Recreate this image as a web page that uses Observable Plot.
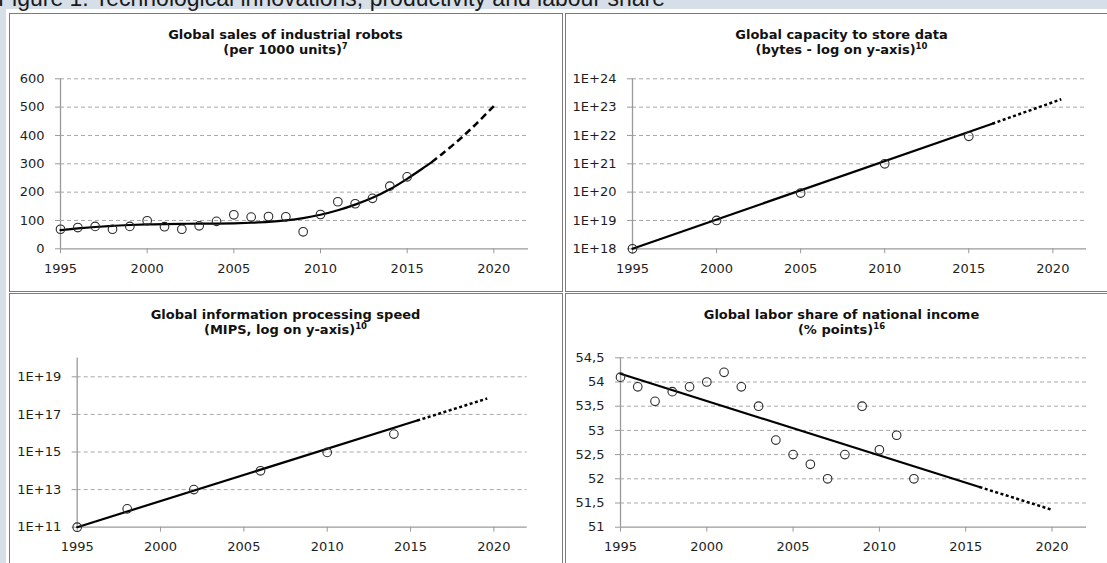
<!DOCTYPE html>
<html>
<head>
<meta charset="utf-8">
<script src="https://cdn.jsdelivr.net/npm/d3@7"></script>
<script src="https://cdn.jsdelivr.net/npm/@observablehq/plot@0.6"></script>
<style>
  html, body { margin: 0; padding: 0; width: 1107px; height: 563px; overflow: hidden; background: #d6dee7; }
  .abs { position: absolute; }
  #fig-title { left: -2px; top: -13.5px; font-family: "Liberation Sans", Arial, sans-serif; font-size: 23px; line-height: 23px; color: #1a1a1a; white-space: nowrap; }
  #sheet { left: 6px; top: 9px; width: 1200px; height: 600px; background: #fff; }
  .panel { border: 1px solid #7c7c7c; box-sizing: border-box; background: #fff; }
  .ptitle { font-family: "DejaVu Sans", Verdana, sans-serif; font-weight: bold; font-size: 13px; line-height: 15.6px; color: #111; text-align: center; white-space: nowrap; }
  .ptitle sup { font-size: 8.5px; vertical-align: 0; position: relative; top: -5px; }
</style>
</head>
<body>
<script>
// ---------- DATA ----------
// Panel 1: global sales of industrial robots (thousand units)
const robotYears = [1995,1996,1997,1998,1999,2000,2001,2002,2003,2004,2005,2006,2007,2008,2009,2010,2011,2012,2013,2014,2015];
const robotSales = [69,75,79,69,79,99,78,69,81,97,120,112,114,113,60,121,166,159,178,221,254];
const robotTrendYears = [1995,1996,1997,1998,1999,2000,2001,2002,2003,2004,2005,2006,2007,2008,2009,2010,2011,2012,2013,2014,2015,2016,2016.4];
const robotTrend = [66,72,77,81,84,86,87,88,89,89,90,92,95,100,108,120,136,156,180,210,247,288,305];
const robotForecastYears = [2016.4,2017,2018,2019,2020];
const robotForecast = [305,334,385,442,504];
const robotTicks = [0,100,200,300,400,500,600];

// Panel 2: global capacity to store data (bytes)
const storageYears = [1995,2000,2005,2010,2015];
const storageBytes = [1e18,1e19,0.93e20,1e21,0.93e22];
const storageTrendYears = [1995,2016.4];
const storageTrend = [1e18,2.6e22];
const storageForecastYears = [2016.4,2020.5];
const storageForecast = [2.6e22,1.9e23];
const storageTicks = [1e18,1e19,1e20,1e21,1e22,1e23,1e24];

// Panel 3: global information processing speed (MIPS)
const mipsYears = [1995,1998,2002,2006,2010,2014];
const mipsValues = [1e11,0.95e12,1e13,1e14,0.95e15,9e15];
const mipsTrendYears = [1995,2015.4];
const mipsTrend = [1e11,4.7e16];
const mipsForecastYears = [2015.4,2019.6];
const mipsForecast = [4.7e16,7e17];
const mipsTicks = [1e11,1e13,1e15,1e17,1e19];

// Panel 4: global labor share of national income (%)
const laborYears = [1995,1996,1997,1998,1999,2000,2001,2002,2003,2004,2005,2006,2007,2008,2009,2010,2011,2012];
const laborShare = [54.1,53.9,53.6,53.8,53.9,54.0,54.2,53.9,53.5,52.8,52.5,52.3,52.0,52.5,53.5,52.6,52.9,52.0];
const laborTrendYears = [1995,2015.8];
const laborTrend = [54.17,51.83];
const laborForecastYears = [2015.8,2020];
const laborForecast = [51.83,51.36];
const laborTicks = [51,51.5,52,52.5,53,53.5,54,54.5];

const yearTicks = [1995,2000,2005,2010,2015,2020];

// ---------- LAYOUT HELPERS ----------
function addDiv(cls, style, html, id) {
  const d = document.createElement("div");
  d.className = cls;
  if (id) d.id = id;
  Object.assign(d.style, style);
  if (html != null) d.innerHTML = html;
  document.body.appendChild(d);
  return d;
}

addDiv("abs", {}, null, "sheet");
addDiv("abs", {}, "Figure 1: Technological innovations, productivity and labour share", "fig-title");

const AXIS = "#9a9a9a", GRID = "#a8a8a8", LABEL = "#1e1e1e";

function panel({left, top, width, height, title, m, yType, yDomain, yTicks, yFmt, gridTicks,
                tx, ty, fx, fy, dash, dotsYears, dotsVals}) {
  addDiv("abs panel", {left: left + "px", top: top + "px", width: (width + 1) + "px", height: (height + 1) + "px"});
  addDiv("abs ptitle", {left: left + "px", top: (top + 13.5) + "px", width: width + "px"}, title);
  const chart = Plot.plot({
    width, height,
    marginLeft: m[0], marginRight: m[1], marginTop: m[2], marginBottom: m[3],
    style: {background: "transparent", fontFamily: "DejaVu Sans, Verdana, sans-serif", fontSize: "13px", color: LABEL, overflow: "visible"},
    x: {domain: [1995, 2022]},
    y: {type: yType, domain: yDomain},
    marks: [
      Plot.ruleY(gridTicks, {stroke: GRID, strokeWidth: 1, strokeDasharray: "4,3"}),
      Plot.ruleY([yDomain[0]], {stroke: AXIS, strokeWidth: 1.3}),
      Plot.ruleX([1995], {stroke: AXIS, strokeWidth: 1.3}),
      Plot.axisX({ticks: yearTicks, tickFormat: d => String(d), tickSize: 5, tickPadding: 10, stroke: AXIS, fill: LABEL, fontSize: 13, label: null}),
      Plot.axisY({ticks: yTicks, tickFormat: yFmt, tickSize: 5, tickPadding: 11, stroke: AXIS, fill: LABEL, fontSize: 13, label: null}),
      Plot.line(tx, {x: tx, y: ty, stroke: "#000", strokeWidth: 2.2, curve: "catmull-rom"}),
      Plot.line(fx, {x: fx, y: fy, stroke: "#000", strokeWidth: 2.5, strokeDasharray: dash, strokeLinecap: "butt", curve: "catmull-rom"}),
      Plot.dot(dotsYears, {x: dotsYears, y: dotsVals, r: 4.3, stroke: "#2a2a2a", strokeWidth: 1.1, fill: "none"})
    ]
  });
  chart.style.position = "absolute";
  chart.style.left = left + "px";
  chart.style.top = top + "px";
  document.body.appendChild(chart);
}

const expFmt = d => "1E+" + Math.round(Math.log10(d));

panel({
  left: 9, top: 13, width: 553, height: 278,
  title: "Global sales of industrial robots<br>(per 1000 units)<sup>7</sup>",
  m: [51, 34, 65.3, 42.7], yType: "linear", yDomain: [0, 600], yTicks: robotTicks, yFmt: d => String(d),
  gridTicks: robotTicks.slice(1),
  tx: robotTrendYears, ty: robotTrend, fx: robotForecastYears, fy: robotForecast, dash: "7,4",
  dotsYears: robotYears, dotsVals: robotSales
});

panel({
  left: 565, top: 13, width: 553, height: 278,
  title: "Global capacity to store data<br>(bytes - log on y-axis)<sup>10</sup>",
  m: [67, 32, 65.3, 42.7], yType: "log", yDomain: [1e18, 1e24], yTicks: storageTicks, yFmt: expFmt,
  gridTicks: storageTicks.slice(1),
  tx: storageTrendYears, ty: storageTrend, fx: storageForecastYears, fy: storageForecast, dash: "3,2.5",
  dotsYears: storageYears, dotsVals: storageBytes
});

panel({
  left: 9, top: 293, width: 553, height: 270,
  title: "Global information processing speed<br>(MIPS, log on y-axis)<sup>10</sup>",
  m: [67.7, 35.3, 64.5, 36.3], yType: "log", yDomain: [1e11, 1e20], yTicks: mipsTicks, yFmt: expFmt,
  gridTicks: mipsTicks.slice(1),
  tx: mipsTrendYears, ty: mipsTrend, fx: mipsForecastYears, fy: mipsForecast, dash: "3,2.5",
  dotsYears: mipsYears, dotsVals: mipsValues
});

panel({
  left: 565, top: 293, width: 553, height: 270,
  title: "Global labor share of national income<br>(% points)<sup>16</sup>",
  m: [55, 32, 64.3, 36.3], yType: "linear", yDomain: [51, 54.5], yTicks: laborTicks, yFmt: d => String(d).replace(".", ","),
  gridTicks: laborTicks.slice(1),
  tx: laborTrendYears, ty: laborTrend, fx: laborForecastYears, fy: laborForecast, dash: "3,2.5",
  dotsYears: laborYears, dotsVals: laborShare
});
</script>
</body>
</html>
